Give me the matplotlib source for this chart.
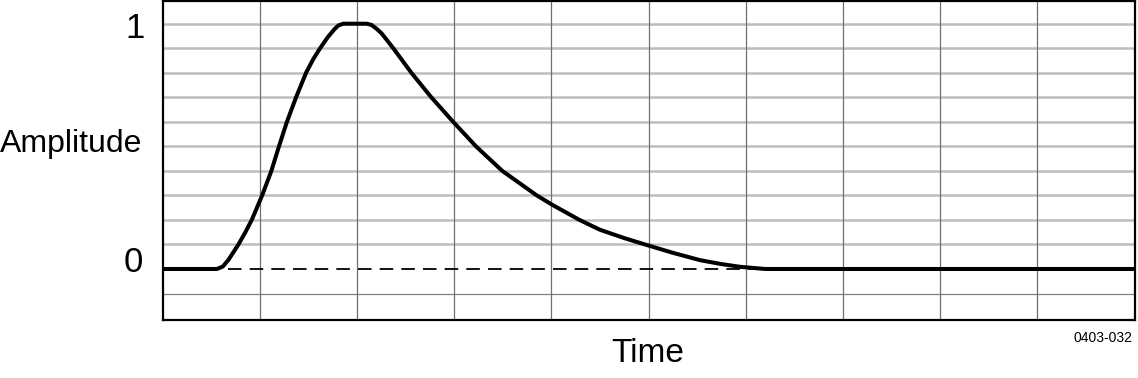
import numpy as np
import matplotlib
matplotlib.use("Agg")
from matplotlib import pyplot as plt
from matplotlib import font_manager

# pulse shape (time in grid divisions, amplitude 0..1)
t = [0.0, 0.559, 0.62, 0.678, 0.781, 0.85, 0.918, 1.025, 1.12, 1.198, 1.28,
     1.374, 1.477, 1.55, 1.621, 1.70, 1.77, 1.81, 1.86, 2.10, 2.15, 2.20,
     2.255, 2.374, 2.56, 2.765, 2.99, 3.225, 3.495, 3.85, 4.008, 4.29, 4.50,
     4.75, 4.98, 5.25, 5.53, 5.75, 5.94, 6.2, 10.0]
amp = [0.0, 0.0, 0.01, 0.037, 0.1, 0.148, 0.2, 0.3, 0.4, 0.5, 0.6,
       0.7, 0.8, 0.855, 0.9, 0.945, 0.978, 0.993, 1.0, 1.0, 0.995, 0.98,
       0.96, 0.9, 0.8, 0.7, 0.6, 0.5, 0.4, 0.3, 0.262, 0.2, 0.16,
       0.126, 0.098, 0.066, 0.036, 0.02, 0.009, 0.0, 0.0]

xgrid = np.arange(1, 10)
ygrid_light = np.round(np.arange(0.1, 1.01, 0.1), 2)
ygrid_dark = [-0.1]

names = {f.name for f in font_manager.fontManager.ttflist}
fam = "Liberation Sans Narrow" if "Liberation Sans Narrow" in names else "Liberation Sans"
plt.rcParams['font.family'] = [fam, 'DejaVu Sans']

fig = plt.figure(figsize=(11.38, 3.78), dpi=100)
ax = fig.add_axes([0.1428, 0.1534, 0.997 - 0.1428, 0.997 - 0.1534])
ax.set_xlim(0, 10)
ax.set_ylim(-0.208, 1.092)

for y in ygrid_light:
    ax.axhline(y, color="#bdbdbd", lw=1.8, zorder=1)
for y in ygrid_dark:
    ax.axhline(y, color="#808080", lw=0.9, zorder=1)
for x in xgrid:
    ax.axvline(x, color="#707070", lw=0.9, zorder=1)

ax.axhline(0, color="black", lw=1.3, dashes=(7.5, 4.5), zorder=2)
ax.plot(t, amp, color="black", lw=2.9, solid_joinstyle="round",
        solid_capstyle="round", zorder=3)

for s in ax.spines.values():
    s.set_linewidth(1.6)
ax.set_xticks([])
ax.set_yticks([])

fig.text(145 / 1138, 1 - 28 / 378, "1", fontsize=25, ha="right", va="center")
fig.text(143 / 1138, 1 - 263 / 378, "0", fontsize=25, ha="right", va="center")
fig.text(0, 1 - 144 / 378, "Amplitude", fontsize=23, ha="left", va="center")
fig.text(648 / 1138, 1 - 353 / 378, "Time", fontsize=24, ha="center", va="center")
fig.text(1133 / 1138, 1 - 338 / 378, "0403-032", fontsize=10, ha="right", va="center")

fig.savefig("out.png", dpi=100)
